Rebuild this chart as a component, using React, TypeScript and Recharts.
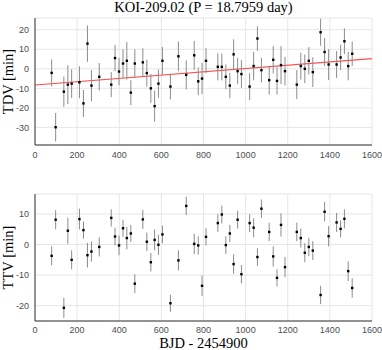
import React from 'react';
import {
  ScatterChart, Scatter, XAxis, YAxis, CartesianGrid, ErrorBar, ReferenceLine, Label,
} from 'recharts';

const transitTimes = [
  79, 98, 137, 156, 174, 211, 230, 249, 268, 305, 362, 380, 399, 418, 436, 455, 474, 512, 531, 550,
  568, 586, 605, 643, 681, 718, 756, 775, 793, 812, 868, 887, 906, 925, 943, 962, 980, 1019, 1038, 1056,
  1075, 1112, 1131, 1149, 1168, 1187, 1243, 1262, 1281, 1300, 1319, 1356, 1375, 1394, 1432, 1451, 1469, 1487, 1506,
];

const tdvValues = [
  -2.1, -29.9, -11.7, -8.1, -7.6, -6.9, -17.7, 12.9, -8.6, -4.1, -8.1, 5.5, -1.4, 2.7, 4.1, -12.2, 2.7, 3.3, -2.2, -10.0,
  -19.1, -7.6, 4.1, -9.1, 6.4, -3.1, 6.9, -6.4, -5.0, 4.1, 1.0, 1.0, -4.1, -8.6, 7.4, -1.2, -2.7, -9.1, 1.4, 15.5,
  -0.7, -5.8, 4.6, -6.2, 1.9, -1.2, -8.1, 1.4, 0.0, 4.1, -1.7, 18.7, 8.6, 2.2, 2.2, 5.8, 14.1, 1.4, 7.7,
];

const tdvErrors = [
  6.9, 7.3, 7.7, 10.0, 7.3, 8.2, 6.9, 9.3, 8.0, 7.0, 6.4, 6.7, 7.0, 7.3, 9.6, 6.4, 7.3, 7.2, 6.9, 7.4,
  8.0, 7.2, 7.0, 6.5, 7.6, 7.4, 7.4, 7.1, 8.0, 6.4, 6.9, 6.9, 6.3, 6.5, 7.7, 6.7, 7.1, 6.9, 7.3, 6.3,
  6.3, 7.3, 7.0, 7.0, 9.7, 7.3, 7.4, 6.9, 7.3, 7.0, 7.6, 6.9, 7.1, 7.9, 6.9, 6.5, 6.6, 7.3, 6.3,
];

const ttvValues = [
  -3.7, 8.1, -20.7, 4.5, -5.0, 8.3, 4.7, -3.5, -2.3, -0.8, 8.7, 2.6, -0.3, 5.3, 2.1, 3.6, -12.8, 8.2, 0.9, -5.8,
  1.5, -0.1, 3.3, -19.2, -5.2, 12.6, 0.2, -0.3, -13.5, 2.5, 7.0, 9.8, -0.2, 3.6, -6.4, 8.1, -9.7, 7.0, 5.5, -4.1,
  11.7, 4.1, -3.9, -10.9, 6.4, -7.4, 4.1, 2.1, -2.7, -0.8, -2.0, -16.5, 10.7, 2.7, 7.2, 5.1, 8.4, -8.7, -14.2,
];

const ttvErrors = [
  3.1, 3.1, 3.3, 4.3, 3.1, 3.4, 2.8, 4.0, 3.3, 3.1, 2.8, 2.9, 3.2, 2.8, 3.7, 2.8, 3.1, 3.1, 3.0, 3.0,
  3.4, 3.3, 2.9, 2.8, 3.3, 3.0, 3.3, 3.0, 3.4, 2.8, 2.9, 2.9, 2.9, 2.8, 3.2, 2.9, 3.0, 2.9, 3.1, 2.9,
  3.0, 3.0, 3.3, 2.8, 3.8, 3.3, 3.0, 3.1, 3.1, 3.0, 3.1, 3.0, 3.2, 3.3, 3.1, 2.8, 3.1, 3.2, 3.2,
];

const trendStart = { x: 0, y: -8.3 };
const trendEnd = { x: 1600, y: 5.2 };

const xTicks = [0, 200, 400, 600, 800, 1000, 1200, 1400, 1600];
const tdvTicks = [-30, -20, -10, 0, 10, 20];
const ttvTicks = [-20, -10, 0, 10];

const titleText = 'KOI-209.02 (P = 18.7959 day)';

const tdvData = transitTimes.map((x, i) => ({ x, y: tdvValues[i], err: tdvErrors[i] }));
const ttvData = transitTimes.map((x, i) => ({ x, y: ttvValues[i], err: ttvErrors[i] }));

const serif = '"Liberation Serif", "DejaVu Serif", serif';
const tickStyle = { fontFamily: '"Liberation Sans", Arial, sans-serif', fontSize: 9, fill: '#4d4d4d' };
const axisColor = '#333333';
const gridColor = '#e6e6e6';

const Dot = (props: any) => {
  const { cx, cy } = props;
  if (cx == null || cy == null) return null;
  return <rect x={cx - 1.2} y={cy - 1.2} width={2.4} height={2.4} fill="#000" />;
};

function Panel({ data, domain, ticks, yLabel, xLabel, height, top, tickMargin, trend }: any) {
  return (
    <ScatterChart
      width={382}
      height={height}
      margin={{ top, right: 10, bottom: 0, left: 0 }}
    >
      <CartesianGrid stroke={gridColor} strokeWidth={1} />
      <XAxis
        type="number"
        dataKey="x"
        domain={[0, 1600]}
        ticks={xTicks}
        allowDataOverflow
        tickSize={0}
        tickMargin={tickMargin}
        tick={tickStyle}
        axisLine={{ stroke: axisColor }}
        tickLine={false}
        height={xLabel ? 29 : 15}
        interval={0}
      >
        {xLabel ? (
          <Label
            value={xLabel}
            position="insideBottom"
            offset={2}
            style={{ fontFamily: serif, fontSize: 14.5, fill: '#000' }}
          />
        ) : null}
      </XAxis>
      <XAxis
        xAxisId="top"
        orientation="top"
        type="number"
        domain={[0, 1600]}
        ticks={xTicks}
        tick={false}
        tickLine={false}
        height={0}
        axisLine={{ stroke: axisColor }}
      />
      <YAxis
        type="number"
        dataKey="y"
        domain={domain}
        ticks={ticks}
        allowDataOverflow
        tickSize={0}
        tickMargin={6}
        tick={tickStyle}
        axisLine={{ stroke: axisColor }}
        tickLine={false}
        width={35}
        interval={0}
      >
        <Label
          value={yLabel}
          angle={-90}
          position="insideLeft"
          offset={8}
          style={{ fontFamily: serif, fontSize: 14.5, fill: '#000', textAnchor: 'middle' }}
        />
      </YAxis>
      <YAxis
        yAxisId="right"
        orientation="right"
        type="number"
        domain={domain}
        tick={false}
        tickLine={false}
        width={0}
        axisLine={{ stroke: axisColor }}
      />
      {trend ? (
        <ReferenceLine
          segment={[trendStart, trendEnd]}
          stroke="#ff4d4d"
          strokeWidth={1.2}
        />
      ) : null}
      <Scatter data={data} shape={Dot} isAnimationActive={false}>
        <ErrorBar dataKey="err" direction="y" width={0} stroke="#8c8c8c" strokeWidth={1} />
      </Scatter>
    </ScatterChart>
  );
}

export default function App() {
  return (
    <div style={{ position: 'absolute', left: 0, top: 0, width: 382, height: 350, background: '#fff' }}>
      <div
        style={{
          position: 'absolute',
          left: 0,
          top: 0,
          width: 407,
          textAlign: 'center',
          fontFamily: serif,
          fontSize: 14.5,
          lineHeight: '15px',
          color: '#000',
          whiteSpace: 'nowrap',
        }}
      >
        {titleText}
      </div>
      <div style={{ position: 'absolute', left: 0, top: 0 }}>
        <Panel
          data={tdvData}
          domain={[-39, 26]}
          ticks={tdvTicks}
          yLabel="TDV [min]"
          height={160}
          top={18}
          tickMargin={7}
          trend
        />
      </div>
      <div style={{ position: 'absolute', left: 0, top: 175 }}>
        <Panel
          data={ttvData}
          domain={[-25, 16.5]}
          ticks={ttvTicks}
          yLabel="TTV [min]"
          xLabel="BJD - 2454900"
          height={175}
          top={19}
          tickMargin={6}
        />
      </div>
    </div>
  );
}
